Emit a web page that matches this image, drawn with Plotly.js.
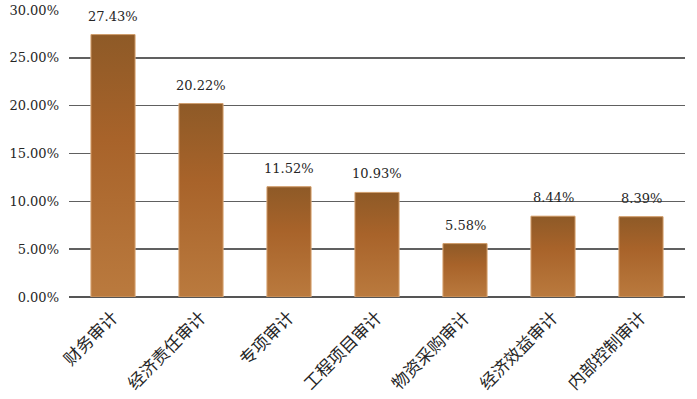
<!DOCTYPE html>
<html>
<head>
<meta charset="utf-8">
<script src="https://cdn.plot.ly/plotly-3.0.1.min.js"></script>
<style>html,body{margin:0;padding:0;background:#fff;}#chart{width:697px;height:399px;}</style>
</head>
<body>
<div id="chart"></div>
<script>
const categories = ['财务审计','经济责任审计','专项审计','工程项目审计','物资采购审计','经济效益审计','内部控制审计'];
const values = [27.43, 20.22, 11.52, 10.93, 5.58, 8.44, 8.39];
const yTicks = [0, 5, 10, 15, 20, 25, 30];

const idx = categories.map((c, i) => i);
const halfW = 0.25;

const traces = [{
  type: 'bar', x: idx, y: values, width: 2 * halfW,
  marker: {color: '#A8632A', line: {color: '#D9A878', width: 0.8}},
  hoverinfo: 'skip', showlegend: false
}];
values.forEach((v, i) => {
  traces.push({
    type: 'scatter', mode: 'lines',
    x: [i - halfW, i + halfW, i + halfW, i - halfW, i - halfW],
    y: [0, 0, v, v, 0],
    fill: 'toself',
    line: {color: '#D9A878', width: 0.8},
    fillgradient: {type: 'vertical', start: 0, stop: v,
      colorscale: [[0, '#BA7A3E'], [0.6, '#A8632A'], [1, '#8E5A27']]},
    hoverinfo: 'skip', showlegend: false
  });
});

const annotations = values.map((v, i) => ({
  x: i, y: v, xref: 'x', yref: 'y', text: v.toFixed(2) + '%',
  showarrow: false, yanchor: 'bottom', yshift: 9,
  font: {family: 'DejaVu Serif', size: 13, color: '#262626'}
}));

const layout = {
  width: 697, height: 399,
  margin: {l: 69, r: 12, t: 10, b: 102},
  paper_bgcolor: '#ffffff', plot_bgcolor: '#ffffff',
  showlegend: false,
  xaxis: {
    range: [-0.5, categories.length - 0.5],
    tickvals: idx, ticktext: categories, tickangle: -45,
    showgrid: false, zeroline: false, showline: false,
    ticks: '', ticklabelstandoff: 6,
    tickfont: {family: 'Noto Sans CJK SC', size: 17, color: '#262626'},
    fixedrange: true
  },
  yaxis: {
    range: [0, 30], tickvals: yTicks,
    ticktext: yTicks.map(t => t.toFixed(2) + '%'),
    showgrid: true, gridcolor: '#606060', gridwidth: 1.5,
    zeroline: true, zerolinecolor: '#555555', zerolinewidth: 2,
    showline: false, ticks: '', ticklabelstandoff: 9,
    tickfont: {family: 'DejaVu Serif', size: 13, color: '#262626'},
    fixedrange: true
  },
  annotations: annotations
};

Plotly.newPlot('chart', traces, layout, {displayModeBar: false, staticPlot: true});
</script>
</body>
</html>
